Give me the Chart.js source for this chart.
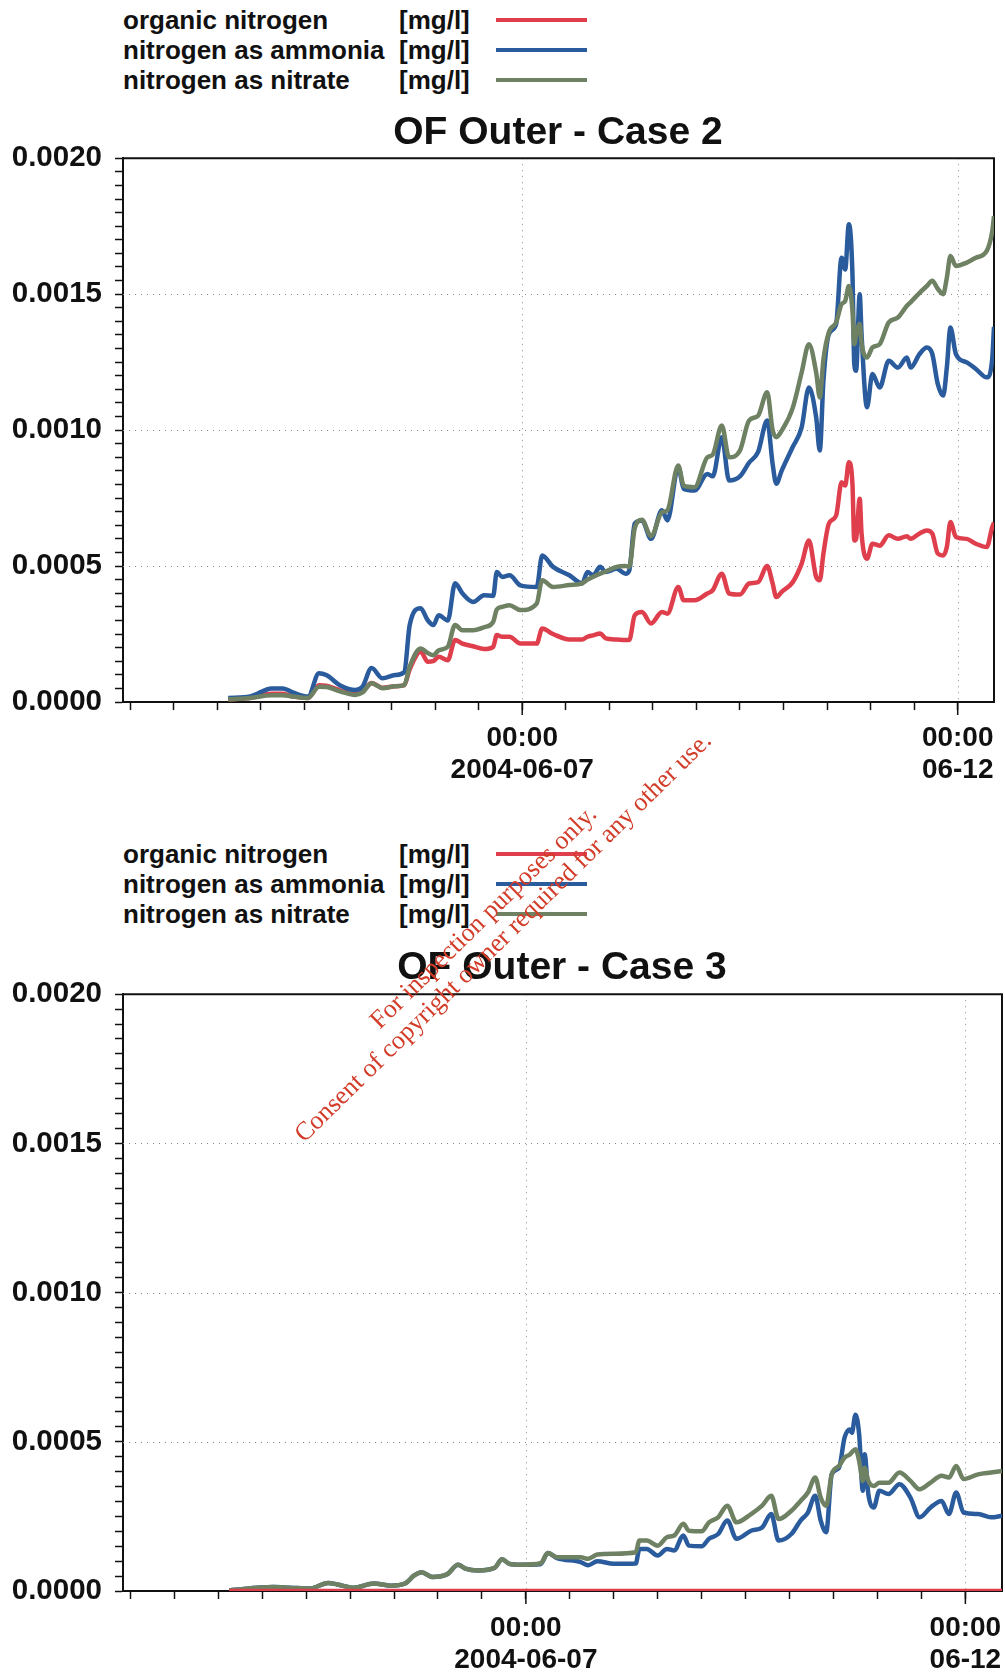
<!DOCTYPE html>
<html>
<head>
<meta charset="utf-8">
<title>OF Outer - nitrogen</title>
<script src="https://cdn.jsdelivr.net/npm/chart.js@4.4.1/dist/chart.umd.min.js"></script>
<style>
  html, body { margin: 0; padding: 0; background: #fff; }
  body { position: relative; width: 1005px; height: 1678px; overflow: hidden;
         font-family: "Liberation Sans", Arial, sans-serif; color: #111; }
  canvas { position: absolute; left: 0; z-index: 1; }
  .legend { position: absolute; left: 123px; width: 480px; font-weight: bold; font-size: 26px; z-index: 2; }
  .legend .row { position: absolute; left: 0; height: 30px; line-height: 30px; white-space: nowrap; }
  .legend .unit { position: absolute; left: 276px; top: 0; }
  .legend .swatch { position: absolute; left: 373px; top: 13px; width: 91px; height: 4px; }
  .title { position: absolute; font-weight: bold; font-size: 39px; white-space: nowrap; z-index: 2;
           transform: translate(-50%, -50%); }
  .stamp { position: absolute; left: 493px; top: 927px; transform: translate(-50%, -50%) rotate(-44.5deg);
           font-family: "Liberation Serif", "DejaVu Serif", serif; font-size: 26px; line-height: 28px;
           color: #d23c28; text-align: center; white-space: nowrap; z-index: 3; }
</style>
</head>
<body>
<div class="legend" id="legend2" style="top:5px"></div>
<div class="title" style="left:558px; top:131px">OF Outer - Case 2</div>
<canvas id="case2" width="1005" height="671" style="top:129px"></canvas>

<div class="legend" id="legend3" style="top:839px"></div>
<div class="title" style="left:562px; top:966px">OF Outer - Case 3</div>
<canvas id="case3" width="1005" height="713" style="top:965px"></canvas>

<div class="stamp">For inspection purposes only.<br>Consent of copyright owner required for any other use.</div>

<script>
// series names / units / colours
const seriesNames = ['organic nitrogen', 'nitrogen as ammonia', 'nitrogen as nitrate'];
const seriesUnit = '[mg/l]';
const seriesColors = ['#df3f4c', '#2a5b9c', '#6f8163'];

// x axis: hours after 2004-06-07 00:00
const xMin = -110, xMax = 130;
const xTickHours = [-108, -96, -84, -72, -60, -48, -36, -24, -12, 0, 12, 24, 36, 48, 60, 72, 84, 96, 108, 120];
const xLabelHours = [0, 120];
const xLabelText = [['00:00', '2004-06-07'], ['00:00', '06-12']];
const yLabelValues = [0, 0.0005, 0.001, 0.0015, 0.002];

// Case 2
const case2Hours = [-81,-75,-69,-66,-63,-59,-56,-54,-50,-46,-44,-41.5,-38.5,-35,-32.5,-31,-28,-26,-24.5,-23,
  -20.5,-18.5,-16.5,-13.5,-10.5,-8,-7,-5.5,-3.5,-0.5,4,5.5,8.5,13,16.5,18,19.5,21.5,23,26,28.5,29.5,31,33,35.5,
  38.5,40,43,44.5,47.5,51,52.5,55,57,60,62.5,65,67.5,69,70,71.5,74.5,77,79,81,82,83,84.5,86.5,88,89,90,91,91.5,
  92,93,93.5,95,96.5,98.5,101,103.5,106,107,109.5,111.5,113,114.5,116,117,118,119.5,122.5,125,128,129.5,130];
const organic2 = [0.1e-4,0.15e-4,0.3e-4,0.3e-4,0.2e-4,0.15e-4,0.62e-4,0.6e-4,0.42e-4,0.3e-4,0.38e-4,0.7e-4,0.52e-4,
  0.58e-4,0.62e-4,1.2e-4,1.85e-4,1.48e-4,1.5e-4,1.66e-4,1.54e-4,2.28e-4,2.15e-4,2.05e-4,1.95e-4,2.03e-4,2.46e-4,
  2.4e-4,2.4e-4,2.15e-4,2.15e-4,2.7e-4,2.5e-4,2.3e-4,2.3e-4,2.4e-4,2.45e-4,2.52e-4,2.34e-4,2.3e-4,2.28e-4,2.28e-4,
  3.19e-4,3.31e-4,2.89e-4,3.31e-4,3.25e-4,4.23e-4,3.74e-4,3.74e-4,3.99e-4,4.11e-4,4.72e-4,3.99e-4,3.95e-4,4.36e-4,
  4.41e-4,5.0e-4,4.36e-4,3.86e-4,4.05e-4,4.4e-4,5.09e-4,5.94e-4,4.6e-4,4.48e-4,5.46e-4,6.56e-4,6.86e-4,8.08e-4,
  7.96e-4,8.82e-4,8.0e-4,5.94e-4,6.0e-4,7.48e-4,6.2e-4,5.27e-4,5.82e-4,5.75e-4,6.13e-4,6.0e-4,6.1e-4,6.0e-4,6.2e-4,
  6.31e-4,6.19e-4,5.46e-4,5.39e-4,5.7e-4,6.62e-4,6.07e-4,6.0e-4,5.82e-4,5.7e-4,6.43e-4,6.6e-4];
const ammonia2 = [0.15e-4,0.2e-4,0.5e-4,0.5e-4,0.34e-4,0.2e-4,1.06e-4,0.99e-4,0.6e-4,0.44e-4,0.56e-4,1.25e-4,0.87e-4,
  0.99e-4,1.1e-4,2.83e-4,3.45e-4,3.0e-4,2.83e-4,3.19e-4,3.0e-4,4.37e-4,4.0e-4,3.68e-4,3.93e-4,3.9e-4,4.78e-4,4.6e-4,
  4.66e-4,4.29e-4,4.23e-4,5.39e-4,4.97e-4,4.66e-4,4.36e-4,4.78e-4,4.66e-4,4.97e-4,4.78e-4,4.9e-4,4.72e-4,4.84e-4,
  6.56e-4,6.68e-4,6.0e-4,7.05e-4,6.68e-4,8.63e-4,7.84e-4,7.78e-4,8.39e-4,8.3e-4,9.74e-4,8.15e-4,8.3e-4,8.8e-4,
  9.2e-4,10.35e-4,8.76e-4,8.03e-4,8.51e-4,9.37e-4,10.1e-4,11.57e-4,10.47e-4,9.25e-4,11.82e-4,13.53e-4,13.9e-4,
  16.34e-4,15.91e-4,17.57e-4,15.73e-4,12.43e-4,12.18e-4,15.0e-4,13.53e-4,10.84e-4,12.06e-4,11.57e-4,12.55e-4,
  12.3e-4,12.67e-4,12.3e-4,12.8e-4,13.04e-4,12.8e-4,11.7e-4,11.27e-4,12.3e-4,13.77e-4,12.8e-4,12.49e-4,12.25e-4,
  11.94e-4,12.61e-4,13.8e-4];
const nitrate2 = [0.1e-4,0.15e-4,0.25e-4,0.25e-4,0.2e-4,0.15e-4,0.56e-4,0.55e-4,0.38e-4,0.26e-4,0.35e-4,0.69e-4,
  0.51e-4,0.58e-4,0.62e-4,1.3e-4,1.97e-4,1.8e-4,1.72e-4,1.9e-4,2.03e-4,2.83e-4,2.64e-4,2.64e-4,2.75e-4,2.95e-4,
  3.4e-4,3.5e-4,3.56e-4,3.38e-4,3.62e-4,4.48e-4,4.23e-4,4.3e-4,4.36e-4,4.5e-4,4.6e-4,4.72e-4,4.8e-4,4.97e-4,5.0e-4,
  4.97e-4,6.39e-4,6.7e-4,6.1e-4,6.98e-4,7.05e-4,8.7e-4,7.96e-4,7.9e-4,9.0e-4,9.1e-4,10.17e-4,9.0e-4,9.25e-4,
  10.35e-4,10.53e-4,11.39e-4,10.0e-4,9.74e-4,9.98e-4,10.8e-4,12.12e-4,13.16e-4,12.12e-4,11.2e-4,12.6e-4,13.6e-4,
  13.96e-4,14.63e-4,14.75e-4,15.3e-4,14.39e-4,13.16e-4,13.5e-4,13.9e-4,13.2e-4,12.67e-4,13.04e-4,13.16e-4,13.96e-4,
  14.14e-4,14.57e-4,14.7e-4,15.05e-4,15.3e-4,15.49e-4,15.2e-4,15.0e-4,15.6e-4,16.4e-4,16.04e-4,16.16e-4,16.34e-4,
  16.59e-4,17.3e-4,17.87e-4];

// Case 3
const case3Hours = [-81,-69,-64.5,-59,-54,-51.5,-47,-41.5,-37,-33,-30.5,-28.5,-25.5,-21.5,-18.5,-16.5,-13,-8.5,
  -6.5,-4.5,-1.5,4,6,8.5,15,17,19.5,24,30,31,33,36,38.5,40.5,43,44.5,48,50,52.5,55,57.5,61.5,64.5,67,69,72.5,75,77,
  79,80.5,82,83.5,85.5,87,88.5,89,90,91,92,92.5,93.5,95,96.5,99,102,105,107.5,110.5,113.5,115.5,117.5,119.5,123.5,
  127,130];
const organic3Hours = [-81, 130];
const organic3 = [0, 0];
const ammonia3 = [0.02e-4,0.13e-4,0.11e-4,0.08e-4,0.27e-4,0.22e-4,0.11e-4,0.25e-4,0.18e-4,0.25e-4,0.52e-4,0.63e-4,
  0.47e-4,0.56e-4,0.88e-4,0.75e-4,0.69e-4,0.78e-4,1.06e-4,0.91e-4,0.88e-4,0.9e-4,1.27e-4,1.1e-4,0.97e-4,0.86e-4,
  1.0e-4,0.91e-4,0.92e-4,1.41e-4,1.41e-4,1.19e-4,1.41e-4,1.36e-4,1.86e-4,1.52e-4,1.5e-4,1.75e-4,1.91e-4,2.36e-4,
  1.75e-4,2.02e-4,2.13e-4,2.58e-4,1.69e-4,1.91e-4,2.36e-4,2.63e-4,3.19e-4,2.36e-4,1.97e-4,3.91e-4,4.13e-4,5.13e-4,
  5.41e-4,5.3e-4,5.91e-4,5.24e-4,3.36e-4,4.58e-4,3.25e-4,2.8e-4,3.36e-4,3.25e-4,3.58e-4,3.13e-4,2.47e-4,2.8e-4,
  3.02e-4,2.58e-4,3.3e-4,2.63e-4,2.58e-4,2.47e-4,2.52e-4];
const nitrate3 = [0.02e-4,0.13e-4,0.11e-4,0.08e-4,0.27e-4,0.22e-4,0.11e-4,0.25e-4,0.18e-4,0.25e-4,0.52e-4,0.63e-4,
  0.47e-4,0.56e-4,0.88e-4,0.75e-4,0.69e-4,0.78e-4,1.06e-4,0.91e-4,0.88e-4,0.93e-4,1.27e-4,1.13e-4,1.13e-4,1.08e-4,
  1.22e-4,1.25e-4,1.3e-4,1.69e-4,1.69e-4,1.52e-4,1.8e-4,1.86e-4,2.25e-4,2.02e-4,2.0e-4,2.3e-4,2.47e-4,2.86e-4,
  2.3e-4,2.58e-4,2.86e-4,3.19e-4,2.41e-4,2.69e-4,3.02e-4,3.3e-4,3.8e-4,3.13e-4,2.86e-4,3.91e-4,4.19e-4,4.47e-4,
  4.58e-4,4.65e-4,4.75e-4,4.36e-4,3.69e-4,4.13e-4,3.69e-4,3.52e-4,3.63e-4,3.63e-4,3.97e-4,3.69e-4,3.41e-4,3.63e-4,
  3.86e-4,3.8e-4,4.19e-4,3.75e-4,3.91e-4,3.97e-4,4.02e-4];


function buildLegend(id) {
    const box = document.getElementById(id);
    seriesNames.forEach((name, i) => {
        const row = document.createElement('div');
        row.className = 'row';
        row.style.top = (i * 30) + 'px';
        row.innerHTML = `<span>${name}</span><span class="unit">${seriesUnit}</span>` +
            `<span class="swatch" style="background:${seriesColors[i]}"></span>`;
        box.appendChild(row);
    });
}

function toPoints(hours, values) {
    return hours.map((h, i) => ({ x: h, y: values[i] }));
}

// dotted grid lines, top/right frame and the longer date ticks
const framePlugin = {
    id: 'frame',
    beforeDatasetsDraw(chart) {
        const { ctx, chartArea: a, scales: { x, y } } = chart;
        ctx.save();
        ctx.strokeStyle = '#8a8a8a';
        ctx.lineWidth = 1;
        ctx.setLineDash([1, 5]);
        yLabelValues.slice(1, -1).forEach(v => {
            const py = Math.round(y.getPixelForValue(v)) + 0.5;
            ctx.beginPath(); ctx.moveTo(a.left, py); ctx.lineTo(a.right, py); ctx.stroke();
        });
        xLabelHours.forEach(h => {
            const px = Math.round(x.getPixelForValue(h)) + 0.5;
            ctx.beginPath(); ctx.moveTo(px, a.top); ctx.lineTo(px, a.bottom); ctx.stroke();
        });
        ctx.setLineDash([]);
        ctx.strokeStyle = '#111';
        ctx.lineWidth = 2;
        ctx.beginPath();
        ctx.moveTo(a.left, a.top); ctx.lineTo(a.right, a.top); ctx.lineTo(a.right, a.bottom);
        ctx.stroke();
        ctx.lineWidth = 1.5;
        xLabelHours.forEach(h => {
            const px = x.getPixelForValue(h);
            ctx.beginPath(); ctx.moveTo(px, a.bottom); ctx.lineTo(px, a.bottom + 13); ctx.stroke();
        });
        ctx.restore();
    }
};

function makeChart(canvasId, series, layout) {
    const xFont = { family: '"Liberation Sans", Arial, sans-serif', size: 28, weight: 'bold', lineHeight: 1.15 };
    const yFont = { family: '"Liberation Sans", Arial, sans-serif', size: 29.5, weight: 'bold', lineHeight: 1.1 };
    return new Chart(document.getElementById(canvasId), {
        type: 'line',
        data: {
            datasets: series.map(s => ({
                label: s.label,
                data: toPoints(s.hours, s.values),
                borderColor: s.color,
                backgroundColor: s.color,
                borderWidth: 4.5,
                pointRadius: 0,
                cubicInterpolationMode: 'monotone',
                order: s.order
            }))
        },
        options: {
            responsive: false,
            animation: false,
            layout: { padding: { top: 0, right: layout.right, left: 0, bottom: 0 } },
            plugins: { legend: { display: false }, tooltip: { enabled: false }, title: { display: false } },
            scales: {
                x: {
                    type: 'linear',
                    min: xMin,
                    max: xMax,
                    afterBuildTicks: scale => { scale.ticks = xTickHours.map(v => ({ value: v })); },
                    afterFit: scale => {
                        scale.height = layout.xHeight;
                        scale.paddingLeft = 0;
                        scale.paddingRight = 0;
                    },
                    ticks: {
                        autoSkip: false, maxRotation: 0, minRotation: 0,
                        padding: layout.xPad, color: '#111', font: xFont,
                        callback: v => {
                            const k = xLabelHours.indexOf(v);
                            return k < 0 ? '' : xLabelText[k];
                        }
                    },
                    grid: { drawOnChartArea: false, color: '#111', tickColor: '#111', tickLength: 8, tickWidth: 1.5 },
                    border: { color: '#111', width: 2 }
                },
                y: {
                    min: 0,
                    max: 0.002,
                    afterBuildTicks: scale => {
                        const t = [];
                        for (let i = 0; i <= 40; i++) t.push({ value: i * 0.00005 });
                        scale.ticks = t;
                    },
                    afterFit: scale => { scale.width = 123; },
                    ticks: {
                        autoSkip: false, padding: 13, color: '#111', font: yFont,
                        callback: v => yLabelValues.some(l => Math.abs(l - v) < 1e-9) ? v.toFixed(4) : ''
                    },
                    grid: { drawOnChartArea: false, color: '#111', tickColor: '#111', tickLength: 8, tickWidth: 1.5 },
                    border: { color: '#111', width: 2 }
                }
            }
        },
        plugins: [framePlugin]
    });
}

buildLegend('legend2');
buildLegend('legend3');

makeChart('case2', [
    { label: seriesNames[0], hours: case2Hours, values: organic2, color: seriesColors[0], order: 2 },
    { label: seriesNames[1], hours: case2Hours, values: ammonia2, color: seriesColors[1], order: 1 },
    { label: seriesNames[2], hours: case2Hours, values: nitrate2, color: seriesColors[2], order: 0 }
], { right: 11, xHeight: 98, xPad: 12 });

makeChart('case3', [
    { label: seriesNames[0], hours: organic3Hours, values: organic3, color: seriesColors[0], order: 0 },
    { label: seriesNames[1], hours: case3Hours, values: ammonia3, color: seriesColors[1], order: 2 },
    { label: seriesNames[2], hours: case3Hours, values: nitrate3, color: seriesColors[2], order: 1 }
], { right: 3, xHeight: 87, xPad: 13 });
</script>
</body>
</html>
